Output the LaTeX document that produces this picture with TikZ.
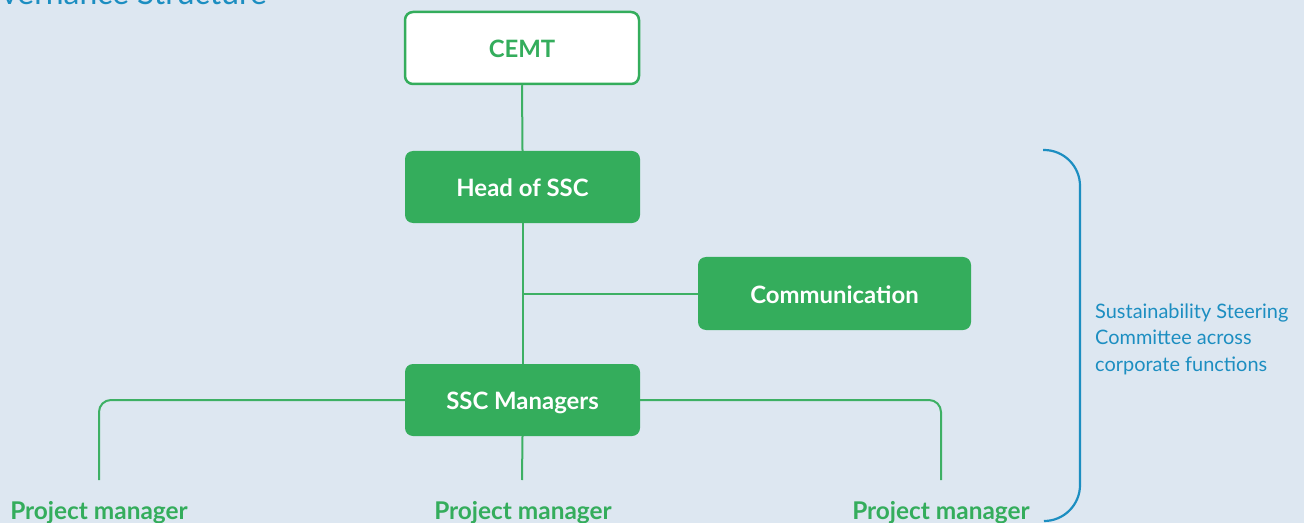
\documentclass[tikz,border=0pt]{standalone}
\usepackage{fontspec}
\setmainfont{Lato}
\definecolor{bg}{HTML}{DDE7F1}
\definecolor{grn}{HTML}{34AD5C}
\definecolor{lgrn}{HTML}{3DB064}
\definecolor{blu}{HTML}{1C8EC1}
\begin{document}
\begin{tikzpicture}[x=1bp,y=-1bp,
  box/.style={rounded corners=8bp, minimum width=235bp, minimum height=72bp, inner sep=0pt,
     text height=19.5bp, text depth=0bp,
     font=\bfseries\fontsize{24}{28}\selectfont},
  gbox/.style={box, fill=grn, text=white},
  wbox/.style={box, fill=white, draw=grn, line width=2.5bp, text=grn},
  conn/.style={draw=lgrn, line width=2bp},
  pm/.style={inner sep=0pt, anchor=base, text=grn, font=\bfseries\fontsize{24.5}{28}\selectfont}]
\fill[bg] (0,0) rectangle (1304,523);
\useasboundingbox (0,0) rectangle (1304,523);
\clip (0,0) rectangle (1304,523);
\node[anchor=base east, inner sep=0pt, text=blu, font=\fontsize{32}{36}\selectfont] (title) at (267,5) {Governance Structure};
\node[wbox, minimum width=234bp, minimum height=72bp] (cemt) at (522,48) {CEMT};
\node[gbox] (head) at (522.5,187) {Head of SSC};
\node[gbox, minimum width=273bp, minimum height=73bp] (comm) at (834.5,293.5) {Communication};
\node[gbox] (mgr) at (522.5,400) {SSC Managers};
\coordinate (p1) at (99,480);
\coordinate (p2) at (522,480);
\coordinate (p3) at (941,480);
\node[pm] (pm1) at (99,519) {Project manager};
\node[pm] (pm2) at (523,519) {Project manager};
\node[pm] (pm3) at (941,519) {Project manager};
\draw[conn] (cemt.south) -- (head.north);
\draw[conn] (head.south) -- (mgr.north);
\draw[conn] (comm.west -| head.south) -- (comm.west);
\draw[conn, rounded corners=12bp] (mgr.west) -| (p1);
\draw[conn, rounded corners=12bp] (mgr.east) -| (p3);
\draw[conn] (mgr.south) -- (p2);
\draw[blu, line width=2.2bp, rounded corners=36bp] (1043,150) -- (1080,150) -- (1080,521) -- (1046,521);
\node[anchor=north west, inner sep=0pt, align=left, text=blu, font=\fontsize{20}{26.5}\selectfont] (ssc) at (1095,303.5) {Sustainability Steering\\Committee across\\corporate functions};
\end{tikzpicture}
\end{document}
